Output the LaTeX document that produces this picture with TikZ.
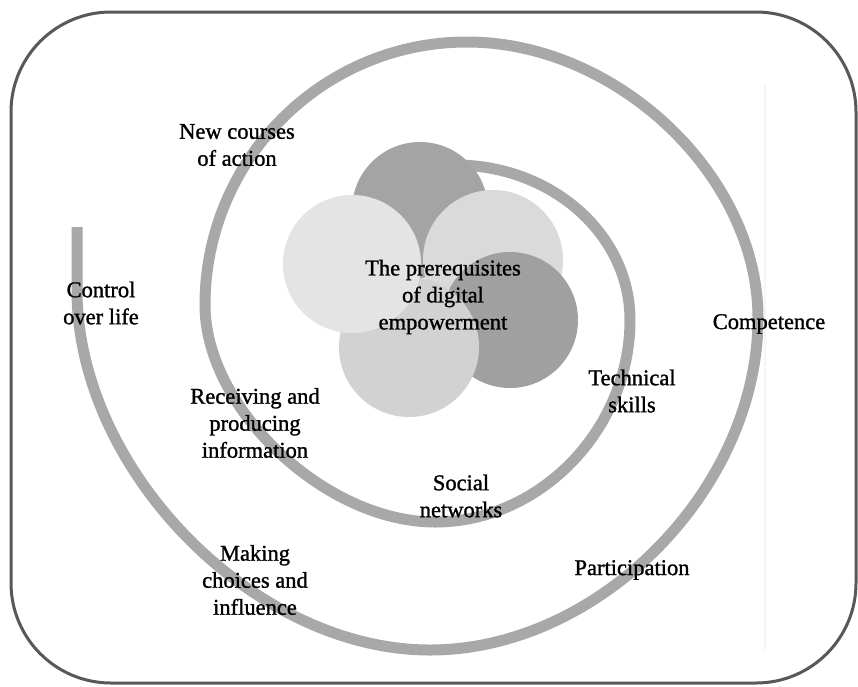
\documentclass[tikz,border=0pt]{standalone}
\usepackage{fontspec}
\setmainfont{Liberation Serif}
\newfontfamily\labelfont{Liberation Serif}[FakeBold=1.2]
\begin{document}
\definecolor{band}{RGB}{168,168,168}
\definecolor{petaldark}{RGB}{164,164,164}
\definecolor{petaldarker}{RGB}{160,160,160}
\definecolor{petallight}{RGB}{228,228,228}
\definecolor{petalmid}{RGB}{218,218,218}
\definecolor{petalbottom}{RGB}{210,210,210}
\definecolor{framecol}{RGB}{88,88,88}
\begin{tikzpicture}[x=1pt,y=-1pt,
  spiralband/.style={draw=band,line width=11pt,line cap=butt,line join=round},
  petal/.style={circle,inner sep=0pt,minimum size=#1},
  label/.style={align=center,text=black,font=\labelfont\fontsize{22.5}{27}\selectfont,inner sep=0pt}]
\useasboundingbox (0,0) rectangle (858,686);
\fill[white] (0,0) rectangle (858,686);
% outer frame
\draw[framecol,line width=3pt,rounded corners=100pt] (11,12) rectangle (856,683);
% faint edge of the inner panel
\draw[black!4,line width=1.5pt] (765,85) -- (765,650);
% the spiral, one quarter turn per Bezier segment, from the free outer end inwards
\draw[spiralband]
  (77,227) -- (77,290)
  .. controls (77,470) and (253.5,650) .. (430,650)
  .. controls (599,650) and (758,489) .. (758,318)
  .. controls (758,176) and (617,42) .. (467,42)
  .. controls (322.3,42) and (205,159.7) .. (205,305)
  .. controls (205,408.5) and (325.3,522) .. (435,522)
  .. controls (540.3,522) and (630,429) .. (630,320)
  .. controls (630,234.4) and (551.7,165) .. (455,165);
% the five overlapping circles
\node[petal=136pt,fill=petaldark] (ptop) at (420,210) {};
\node[petal=140pt,fill=petalmid] (prt) at (493,260) {};
\node[petal=136pt,fill=petaldarker] (prl) at (510,320) {};
\node[petal=140pt,fill=petalbottom] (pbot) at (409,347) {};
\node[petal=138pt,fill=petallight] (pleft) at (352,264) {};
% labels
\node[label] (core) at (443,297) {The prerequisites\\of digital\\empowerment};
\node[label] (newc) at (237,145) {New courses\\of action};
\node[label] (ctrl) at (101,303) {Control\\over life};
\node[label] (comp) at (769,324) {Competence};
\node[label] (tech) at (632,391) {Technical\\skills};
\node[label] (recv) at (255,423) {Receiving and\\producing\\information};
\node[label] (soc) at (461,496) {Social\\networks};
\node[label] (make) at (255,580) {Making\\choices and\\influence};
\node[label] (part) at (632,570) {Participation};
\end{tikzpicture}
\end{document}
